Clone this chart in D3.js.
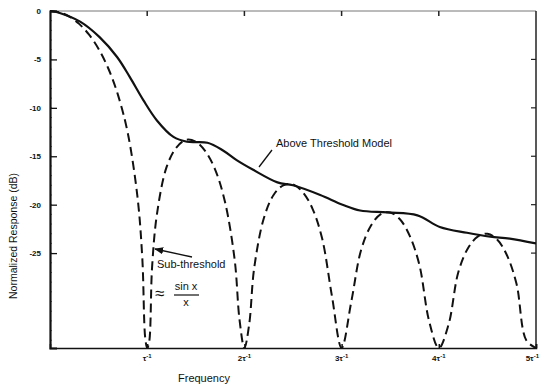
<!DOCTYPE html>
<html>
<head>
<meta charset="utf-8">
<script src="https://cdn.jsdelivr.net/npm/d3@7"></script>
<style>
  body { margin: 0; background: #fff; }
  svg { display: block; font-family: "Liberation Sans", Arial, sans-serif; }
  .tick-lbl { font-size: 8px; font-weight: bold; fill: #111; }
  .note { font-size: 11px; fill: #111; }
</style>
</head>
<body>
<div id="chart"></div>
<script>
// ── data ────────────────────────────────────────────────────────────────
// x in units of 1/τ, y in dB
const yTicks      = [0, -5, -10, -15, -20, -25];
const yTickLabels = ['0', '-5', '-10', '-15', '-20', '-25'];
const xTicks      = [1, 2, 3, 4, 5];
const xTickCoef   = ['', '2', '3', '4', '5'];

// sub-threshold (sin x / x) – dashed
const subFreq = [0, 0.1, 0.2, 0.3, 0.4, 0.5, 0.6, 0.7, 0.8, 0.9, 0.95, 0.98, 1.0,
  1.02, 1.05, 1.1, 1.2, 1.3, 1.4, 1.5, 1.6, 1.7, 1.8, 1.9, 1.95, 2.0,
  2.05, 2.1, 2.2, 2.3, 2.4, 2.5, 2.6, 2.7, 2.8, 2.9, 3.0,
  3.1, 3.2, 3.3, 3.4, 3.5, 3.6, 3.7, 3.8, 3.9, 4.0,
  4.1, 4.2, 4.3, 4.4, 4.5, 4.6, 4.7, 4.8, 4.9, 5.0];
const subDb = [0, -0.14, -0.58, -1.33, -2.42, -3.92, -5.94, -8.69, -12.6, -19.2, -25.6, -33.8, -34.8,
  -34.2, -26.5, -21.0, -16.1, -14.1, -13.3, -13.5, -14.5, -16.4, -19.7, -25.7, -31.9, -34.8,
  -32.3, -26.6, -21.4, -19.0, -18.0, -17.9, -18.7, -20.4, -23.5, -29.4, -34.8,
  -30.0, -24.7, -22.2, -21.0, -20.8, -21.5, -23.2, -26.2, -32.0, -34.8,
  -32.4, -27.0, -24.5, -23.3, -23.0, -23.6, -25.2, -28.2, -34.0, -34.8];

// above threshold model – solid
const modelFreq = [0, 0.10, 0.31, 0.51, 0.69, 0.82, 0.96, 1.10, 1.27, 1.41, 1.62, 1.78, 1.92,
  2.09, 2.34, 2.50, 2.78, 3.01, 3.19, 3.47, 3.78, 4.01, 4.29, 4.53, 4.73, 5.0];
const modelDb = [0, -0.2, -1.1, -2.7, -4.75, -6.8, -9.2, -11.3, -13.0, -13.5, -13.6, -14.4, -15.4,
  -16.4, -17.7, -18.0, -19.0, -20.0, -20.6, -20.8, -21.1, -22.3, -22.9, -23.3, -23.5, -24.0];

// ── layout ──────────────────────────────────────────────────────────────
const W = 541, H = 389;
const L = 50, R = 536, T = 11, B = 348;

const x = d3.scaleLinear().domain([0, 5]).range([L, R]);
const y = d3.scaleLinear().domain([-34.8, 0]).range([B, T]);

const svg = d3.select('#chart').append('svg').attr('width', W).attr('height', H);

const defs = svg.append('defs');
defs.append('clipPath').attr('id', 'plot')
  .append('rect').attr('x', L).attr('y', T - 2).attr('width', R - L).attr('height', B - T + 2);
defs.append('marker').attr('id', 'arrow')
  .attr('viewBox', '0 0 10 10').attr('refX', 9).attr('refY', 5)
  .attr('markerWidth', 7).attr('markerHeight', 7).attr('orient', 'auto')
  .append('path').attr('d', 'M0,1 L10,5 L0,9 Z').attr('fill', '#111');

// ── frame ──
svg.append('line').attr('x1', L).attr('x2', R).attr('y1', T).attr('y2', T)
  .attr('stroke', '#777').attr('stroke-width', 1);
svg.append('line').attr('x1', R).attr('x2', R).attr('y1', T).attr('y2', B)
  .attr('stroke', '#222').attr('stroke-width', 1.5);

// top / right inward ticks
svg.append('g').selectAll('line').data(xTicks.slice(0, 4)).enter().append('line')
  .attr('x1', d => x(d)).attr('x2', d => x(d)).attr('y1', T).attr('y2', T + 5)
  .attr('stroke', '#222').attr('stroke-width', 1.5);
svg.append('g').selectAll('line').data(yTicks.slice(1)).enter().append('line')
  .attr('x1', R).attr('x2', R - 5).attr('y1', d => y(d)).attr('y2', d => y(d))
  .attr('stroke', '#222').attr('stroke-width', 1.2);

// minor ticks on left
svg.append('g').selectAll('line').data(d3.range(-34, 0)).enter().append('line')
  .attr('x1', L).attr('x2', L + 2).attr('y1', d => y(d)).attr('y2', d => y(d))
  .attr('stroke', '#555').attr('stroke-width', 0.8);

// left axis
const yAxis = svg.append('g').attr('transform', `translate(${L},0)`)
  .call(d3.axisLeft(y).tickValues(yTicks).tickSize(-7).tickPadding(9)
    .tickFormat((d, i) => yTickLabels[i]));
yAxis.select('.domain').attr('stroke', '#111').attr('stroke-width', 2.2);
yAxis.selectAll('.tick line').attr('stroke', '#111').attr('stroke-width', 1.3);
yAxis.selectAll('.tick text').attr('class', 'tick-lbl').attr('font-family', null).attr('font-size', null);

// bottom axis
const xAxis = svg.append('g').attr('transform', `translate(0,${B})`)
  .call(d3.axisBottom(x).tickValues(xTicks).tickSize(-4).tickFormat(''));
xAxis.select('.domain').attr('stroke', '#111').attr('stroke-width', 1.6);
xAxis.selectAll('.tick line').attr('stroke', '#111').attr('stroke-width', 1.5);

// last label would run off the page, so it hangs left of its tick
const xl = svg.append('g').selectAll('text').data(xTicks).enter().append('text')
  .attr('class', 'tick-lbl')
  .attr('x', (d, i) => i === xTicks.length - 1 ? W - 2 : x(d))
  .attr('y', 361)
  .attr('text-anchor', (d, i) => i === xTicks.length - 1 ? 'end' : 'middle');
xl.append('tspan').text((d, i) => xTickCoef[i] + 'τ');
xl.append('tspan').attr('dy', -3).attr('font-size', '6px').text('-1');

// axis titles
svg.append('text').attr('class', 'note').attr('x', 204).attr('y', 382)
  .attr('text-anchor', 'middle').text('Frequency');
svg.append('text').attr('class', 'note').style('font-size', '10.5px')
  .attr('transform', 'translate(17,236) rotate(-90)')
  .attr('text-anchor', 'middle').text('Normalized Response (dB)');

// ── curves ──
const plot = svg.append('g').attr('clip-path', 'url(#plot)');

const line = d3.line()
  .x(d => x(d[0])).y(d => y(d[1]))
  .curve(d3.curveCatmullRom.alpha(0.5));

plot.append('path')
  .datum(d3.zip(subFreq, subDb))
  .attr('d', line)
  .attr('fill', 'none').attr('stroke', '#111').attr('stroke-width', 2)
  .attr('stroke-dasharray', '9,5');

plot.append('path')
  .datum(d3.zip(modelFreq, modelDb))
  .attr('d', line)
  .attr('fill', 'none').attr('stroke', '#111').attr('stroke-width', 2.2);

// ── annotations ──
svg.append('text').attr('class', 'note').attr('x', 276).attr('y', 147).text('Above Threshold Model');
svg.append('line').attr('x1', 272).attr('y1', 150).attr('x2', 259).attr('y2', 167)
  .attr('stroke', '#111').attr('stroke-width', 1.3);

svg.append('text').attr('class', 'note').attr('x', 157).attr('y', 268).text('Sub-threshold');
svg.append('line').attr('x1', 192).attr('y1', 257).attr('x2', 155).attr('y2', 249)
  .attr('stroke', '#111').attr('stroke-width', 1.3).attr('marker-end', 'url(#arrow)');

svg.append('text').attr('class', 'note').style('font-size', '17px')
  .attr('x', 155).attr('y', 299).text('≈');
svg.append('text').attr('class', 'note').attr('x', 186).attr('y', 290)
  .attr('text-anchor', 'middle').text('sin x');
svg.append('line').attr('x1', 174).attr('x2', 199).attr('y1', 295).attr('y2', 295)
  .attr('stroke', '#111').attr('stroke-width', 1.2);
svg.append('text').attr('class', 'note').attr('x', 186).attr('y', 306)
  .attr('text-anchor', 'middle').text('x');
</script>
</body>
</html>
